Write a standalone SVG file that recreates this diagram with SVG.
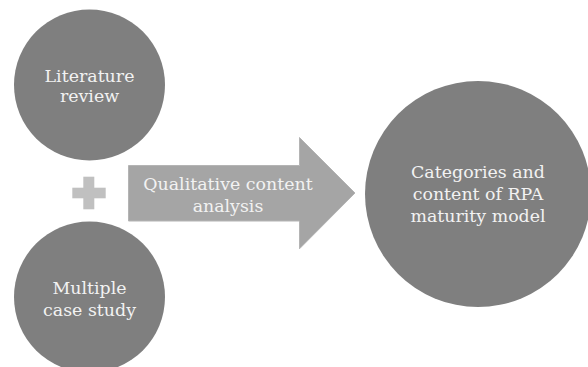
<svg xmlns="http://www.w3.org/2000/svg" width="588" height="367" viewBox="0 0 588 367">
  <style>
    .circle { fill: #7f7f7f; }
    .label { font-family: "DejaVu Serif", "Liberation Serif", serif; font-size: 17.4px; fill: #f2f2f2; text-anchor: middle; }
    .arrow { fill: #a5a5a5; stroke: #b4b4b4; stroke-width: 1; }
    .plus { fill: #c0c0c0; }
  </style>
  <rect width="588" height="367" fill="#ffffff"/>

  <!-- source: literature review -->
  <g id="literature-review">
    <circle class="circle" cx="89.5" cy="85" r="75.5"/>
    <text class="label" x="89.5" y="82">Literature</text>
    <text class="label" x="89.5" y="102">review</text>
  </g>

  <!-- plus sign joining the two sources -->
  <g id="plus">
    <rect class="plus" x="83.3" y="176.7" width="11" height="32.6"/>
    <rect class="plus" x="72.3" y="187.7" width="33.4" height="10.6"/>
  </g>

  <!-- source: multiple case study -->
  <g id="multiple-case-study">
    <circle class="circle" cx="89.5" cy="297" r="75.5"/>
    <text class="label" x="89.5" y="294">Multiple</text>
    <text class="label" x="89.5" y="316">case study</text>
  </g>

  <!-- block arrow carrying the method label -->
  <g id="connectors">
    <g id="qualitative-content-analysis">
      <polygon class="arrow" points="128.5,165.5 299.5,165.5 299.5,137.5 355,193 299.5,248.8 299.5,221 128.5,221"/>
      <text class="label" x="228" y="189.5">Qualitative content</text>
      <text class="label" x="228" y="211.5">analysis</text>
    </g>
  </g>

  <!-- result: maturity model -->
  <g id="rpa-maturity-model">
    <circle class="circle" cx="478" cy="194" r="113"/>
    <text class="label" x="478" y="178">Categories and</text>
    <text class="label" x="478" y="200">content of RPA</text>
    <text class="label" x="478" y="221.5">maturity model</text>
  </g>
</svg>
